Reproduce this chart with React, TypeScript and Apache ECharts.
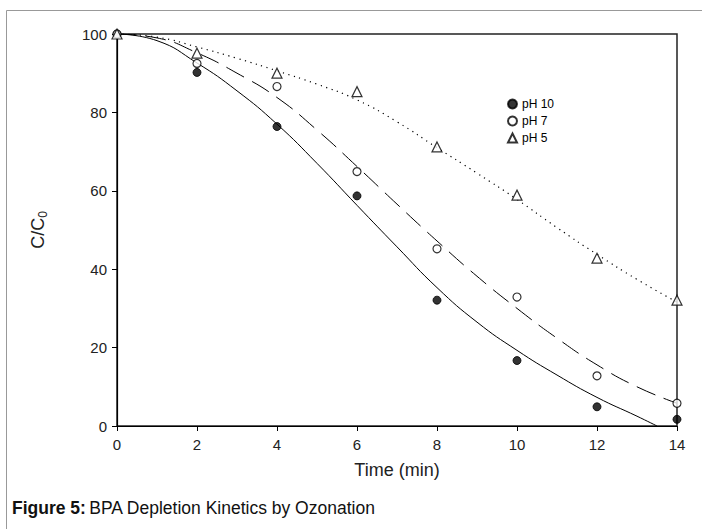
import React, { useEffect, useRef } from "react";
import * as echarts from "echarts";

const xTicks = [0, 2, 4, 6, 8, 10, 12, 14];
const yTicks = [0, 20, 40, 60, 80, 100];

const seriesNames = ["pH 10", "pH 7", "pH 5"];

// measured points
const ph10Points: [number, number][] = [[0, 100], [2, 90.2], [4, 76.4], [6, 58.7], [8, 32.1], [10, 16.7], [12, 4.9], [14, 1.7]];
const ph7Points: [number, number][] = [[0, 100], [2, 92.5], [4, 86.6], [6, 64.9], [8, 45.2], [10, 32.9], [12, 12.8], [14, 5.8]];
const ph5Points: [number, number][] = [[0, 100], [2, 95.1], [4, 90.0], [6, 85.3], [8, 71.2], [10, 58.9], [12, 42.8], [14, 32.1]];

// fitted curves
const ph10Curve: [number, number][] = [[0, 100], [1, 98.3], [2, 92.6], [3, 85.5], [4, 77], [5, 67], [6, 56.3], [7, 45.7], [8, 35.3], [9, 26.5], [10, 19.3], [11, 13], [12, 7.3], [13, 2.5], [13.5, 0]];
const ph7Curve: [number, number][] = [[0, 100], [1, 99], [2, 95.2], [3, 90], [4, 83.8], [5, 75.5], [6, 66.2], [7, 56.6], [8, 47.2], [9, 38.2], [10, 30], [11, 22.4], [12, 15.6], [13, 10], [14, 5.8]];
const ph5Curve: [number, number][] = [[0, 100], [1, 99.2], [2, 96.7], [3, 93.8], [4, 90.6], [5, 87.2], [6, 83.2], [7, 77.6], [8, 71], [9, 64.5], [10, 57.8], [11, 50.6], [12, 43.8], [13, 37.4], [14, 31.6]];

const FONT = "'Liberation Sans', Arial, sans-serif";

export default function App() {
  const ref = useRef<HTMLDivElement>(null);
  useEffect(() => {
    if (!ref.current) return;
    const chart = echarts.init(ref.current, null, { renderer: "svg" });
    const axisCommon = {
      axisLine: { show: true, lineStyle: { color: "#000", width: 1.2 } },
      axisTick: { show: true, inside: false, length: 5, lineStyle: { color: "#000" } },
      splitLine: { show: false },
    };
    chart.setOption({
      animation: false,
      backgroundColor: "#fff",
      textStyle: { fontFamily: FONT },
      grid: {
        left: 117, right: 25, top: 34, bottom: 103,
        show: true, borderColor: "#222", borderWidth: 1.5, backgroundColor: "transparent",
      },
      legend: {
        data: seriesNames,
        orient: "vertical",
        left: 502, top: 93,
        itemWidth: 9, itemHeight: 9, itemGap: 5,
        textStyle: { fontSize: 12, color: "#000", fontFamily: FONT },
      },
      xAxis: {
        type: "value", min: 0, max: 14, interval: 2,
        ...axisCommon,
        axisLabel: { fontSize: 15, color: "#222", margin: 11, fontFamily: FONT,
          formatter: (v: number) => (xTicks.includes(v) ? String(v) : "") },
        name: "Time (min)", nameLocation: "middle", nameGap: 35,
        nameTextStyle: { fontSize: 18, color: "#222", fontFamily: FONT },
      },
      yAxis: {
        type: "value", min: 0, max: 100, interval: 20,
        ...axisCommon,
        axisLabel: { fontSize: 15, color: "#222", margin: 10, fontFamily: FONT,
          formatter: (v: number) => (yTicks.includes(v) ? String(v) : "") },
        name: "{a|C/C}{b|0}", nameLocation: "middle", nameGap: 68, nameRotate: 90,
        nameTextStyle: {
          color: "#222", fontFamily: FONT,
          rich: {
            a: { fontSize: 18, color: "#222", fontFamily: FONT },
            b: { fontSize: 12, color: "#222", fontFamily: FONT, padding: [10, 0, 0, 0] },
          },
        },
      },
      graphic: [
        { type: "rect", silent: true, z: -1, shape: { x: 6.5, y: 10.5, width: 760, height: 600 },
          style: { fill: "none", stroke: "#999", lineWidth: 1 } },
        { type: "text", left: 12, top: 499,
          style: { text: "{b|Figure 5:} {n|BPA Depletion Kinetics by Ozonation}",
            rich: {
              b: { fontSize: 17.5, fontWeight: "bold", fill: "#111", fontFamily: FONT },
              n: { fontSize: 17.5, fill: "#111", fontFamily: FONT },
            } } },
      ],
      series: [
        { type: "line", data: ph10Curve, smooth: 0.5, showSymbol: false, symbol: "none",
          lineStyle: { color: "#000", width: 1, type: "solid" }, z: 2, silent: true },
        { type: "line", data: ph7Curve, smooth: 0.5, showSymbol: false, symbol: "none",
          lineStyle: { color: "#000", width: 1, type: [20, 9] }, z: 2, silent: true },
        { type: "line", data: ph5Curve, smooth: 0.5, showSymbol: false, symbol: "none",
          lineStyle: { color: "#000", width: 1.2, type: [1.2, 4.5] }, z: 2, silent: true },
        { name: seriesNames[0], type: "scatter", data: ph10Points, symbol: "circle", symbolSize: 8, clip: false,
          itemStyle: { color: "#000", borderColor: "#000", borderWidth: 1 }, z: 5 },
        { name: seriesNames[1], type: "scatter", data: ph7Points, symbol: "circle", symbolSize: 8, clip: false,
          itemStyle: { color: "#fff", borderColor: "#000", borderWidth: 1.2 }, z: 5 },
        { name: seriesNames[2], type: "scatter", data: ph5Points, symbol: "triangle", symbolSize: 10, clip: false,
          itemStyle: { color: "#fff", borderColor: "#000", borderWidth: 1.2 }, z: 5 },
      ],
    });
    return () => chart.dispose();
  }, []);
  return <div ref={ref} style={{ width: 702, height: 529, position: "absolute", left: 0, top: 0 }} />;
}
